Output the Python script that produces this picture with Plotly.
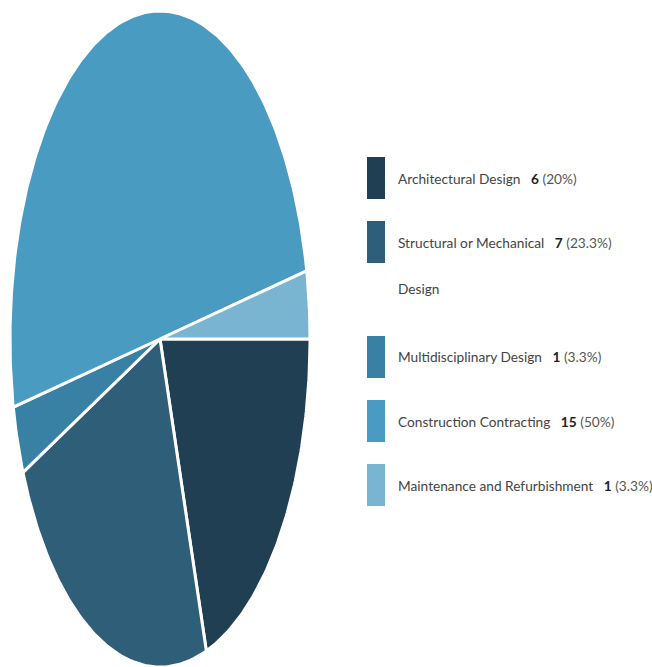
import numpy as np
import plotly.graph_objects as go

categories = ["Architectural Design", "Structural or Mechanical Design", "Multidisciplinary Design",
              "Construction Contracting", "Maintenance and Refurbishment"]
values = [6, 7, 1, 15, 1]
colors = ["#203f52", "#2e5e78", "#3880a4", "#4a9bc1", "#79b4d0"]

W, H = 652, 667
# ellipse centre / radii in screen pixels (layout)
cx, cy, rx, ry = 160, 339, 150, 328

total = sum(values)
fracs = np.array(values) / total
bounds = np.concatenate([[0], np.cumsum(fracs)])

fig = go.Figure()
for i, name in enumerate(categories):
    t = np.linspace(bounds[i], bounds[i + 1], max(int(fracs[i] * 400), 8)) * 2 * np.pi
    xs = np.concatenate([[0], np.cos(t), [0]])
    ys = np.concatenate([[0], -np.sin(t), [0]])
    fig.add_trace(go.Scatter(x=xs, y=ys, mode="lines", fill="toself", fillcolor=colors[i],
                             line=dict(color="white", width=3), name=name, showlegend=False,
                             hoverinfo="name"))

fig.update_xaxes(range=[-cx / rx, (W - cx) / rx], visible=False, fixedrange=True)
fig.update_yaxes(range=[-(H - cy) / ry, cy / ry], visible=False, fixedrange=True)

font_family = "Lato, sans-serif"
fs = 13.7
row_y = [178, 242, 357, 421, 485]
nb = "\u00a0"
for i, name in enumerate(categories):
    y = row_y[i]
    pct = 100 * fracs[i]
    pct_s = f"{pct:.1f}".rstrip("0").rstrip(".")
    first = name if i != 1 else "Structural or Mechanical"
    fig.add_shape(type="rect", xref="paper", yref="paper",
                  x0=367 / W, x1=385 / W, y0=1 - (y - 21) / H, y1=1 - (y + 21) / H,
                  fillcolor=colors[i], line=dict(width=0))
    txt = (f"<span style='color:#444'>{first}</span>{nb*3}<b>{values[i]}</b>{nb}"
           f"<span style='color:#555'>({pct_s}%)</span>")
    fig.add_annotation(x=396 / W, y=1 - y / H, xref="paper", yref="paper", xanchor="left",
                       yanchor="middle", text=txt, showarrow=False,
                       font=dict(family=font_family, size=fs, color="#222"))
    if i == 1:
        fig.add_annotation(x=396 / W, y=1 - 289 / H, xref="paper", yref="paper",
                           xanchor="left", yanchor="middle", text="Design", showarrow=False,
                           font=dict(family=font_family, size=fs, color="#444"))

fig.update_layout(width=W, height=H, margin=dict(l=0, r=0, t=0, b=0),
                  paper_bgcolor="white", plot_bgcolor="white", showlegend=False)
fig.write_html("out.html", config={"displayModeBar": False},
               post_script="document.body.style.margin='0';document.body.style.overflow='hidden';")
